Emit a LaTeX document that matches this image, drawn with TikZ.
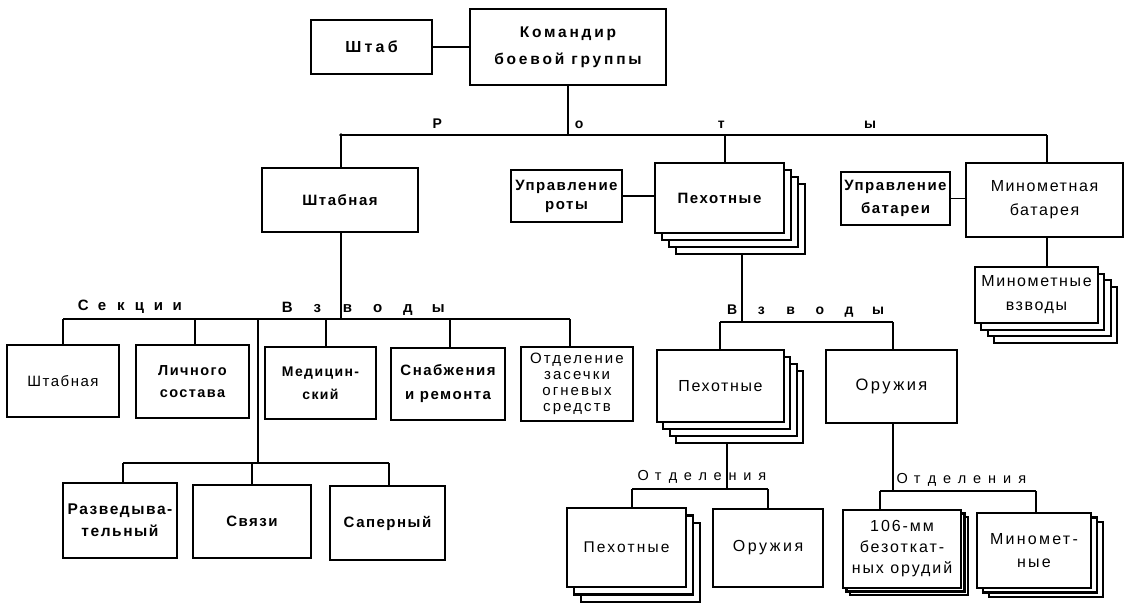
\documentclass[tikz,border=0pt]{standalone}
\usepackage{fontspec}
\setmainfont{Liberation Sans}[LetterSpace=10]
\usetikzlibrary{calc}
\pgfdeclarelayer{bg}
\pgfsetlayers{bg,main}
\newcommand\fb[2]{\fontsize{#1}{#2}\selectfont\bfseries}
\newcommand\fr[2]{\fontsize{#1}{#2}\selectfont\mdseries}
\newcommand\ls[1]{\addfontfeature{LetterSpace=#1}}
\newcommand\mybox[7][]{\node[box,minimum width={#5-#3},minimum height={#6-#4},#1] (#2) at ({(#3+#5)/2},{(#4+#6)/2}) {#7};}
\newcommand\sheets[7]{\foreach \i in {#5,...,1}{\draw[sheet] ({#1+\i*#6},{#2+\i*#7}) rectangle ({#3+\i*#6},{#4+\i*#7});}}
\newcommand\spaced[2]{\foreach \c in {#2}{\makebox[0pt]{\c}\hspace{#1pt}}}
\tikzset{
  x=1pt, y=-1pt,
  box/.style={draw, line width=2.5pt, fill=white, align=center, inner sep=1pt},
  sheet/.style={draw, line width=2.1pt, fill=white},
  conn/.style={line width=1.3pt},
  lbl/.style={inner sep=0pt, anchor=base west},
}
\begin{document}
\begin{tikzpicture}
\begin{pgfonlayer}{bg}
\fill[white] (0,0) rectangle (1126,605);
\end{pgfonlayer}
\useasboundingbox (0,0) rectangle (1126,605);
% top
\mybox[font=\fb{16}{18}\ls{20}]{shtab}{311}{20}{432}{74}{Штаб}
\mybox[font=\fb{15.5}{27}\ls{18}]{cmd}{470}{9}{666}{85}{Командир\\боевой группы}
\mybox[font=\fb{15}{18}, line width=2.9pt]{shtabco}{262}{168}{418}{232}{Штабная}
\mybox[font=\fb{15}{19}]{upr}{511}{170}{622}{222}{Управление\\роты}
\sheets{655}{163}{784}{233}{3}{7}{7}
\mybox[font=\fb{15}{19}]{pekhco}{655}{163}{784}{233}{Пехотные}
\mybox[font=\fb{15}{23}]{uprbat}{841}{172}{950}{225}{Управление\\батареи}
\mybox[font=\fr{16}{24}]{minbat}{966}{163}{1123}{237}{Минометная\\батарея}
\sheets{975}{267}{1098}{323}{3}{6.3}{6.7}
\mybox[font=\fr{16}{24}]{minvz}{975}{267}{1098}{323}{Минометные\\взводы}
% sections / platoons of HQ company
\mybox[font=\fr{15}{20}]{s1}{7}{345}{119}{417}{Штабная}
\mybox[font=\fb{14.5}{22}]{s2}{136}{345}{249}{418}{Личного\\состава}
\mybox[font=\fb{14}{23}]{p1}{265}{347}{376}{419}{Медицин-\\ский}
\mybox[font=\fb{15}{24}]{p2}{391}{348}{505}{420}{Снабжения\\и ремонта}
\mybox[font=\fr{15}{16}\ls{14}]{p3}{521}{347}{633}{421}{Отделение\\засечки\\огневых\\средств}
\mybox[font=\fb{15.5}{22}]{r1}{63}{483}{177}{558}{Разведыва-\\тельный}
\mybox[font=\fb{15}{18}]{r2}{193}{485}{311}{558}{Связи}
\mybox[font=\fb{15}{18}]{r3}{330}{486}{445}{560}{Саперный}
% rifle company platoons
\sheets{657}{350}{784}{422}{3}{6.3}{7}
\mybox[font=\fr{16}{18}]{pl1}{657}{350}{784}{422}{Пехотные}
\mybox[font=\fr{16.5}{18}\ls{15}]{pl2}{826}{350}{957}{423}{Оружия}
% squads
\sheets{567}{508}{686}{587}{2}{7}{7.5}
\mybox[font=\fr{15.5}{18}\ls{14}]{sq1}{567}{508}{686}{587}{Пехотные}
\mybox[font=\fr{16}{18}\ls{16}]{sq2}{713}{509}{823}{587}{Оружия}
\sheets{843}{510}{961}{588}{2}{3.5}{3.5}
\mybox[font=\fr{16}{21}\ls{12}]{sq3}{843}{510}{961}{588}{106-мм\\безоткат-\\ных орудий}
\sheets{977}{513}{1091}{588}{2}{6}{4.5}
\mybox[font=\fr{16}{23}\ls{14}]{sq4}{977}{513}{1091}{588}{Миномет-\\ные}
% labels
\node[lbl, font=\fb{14}{16}\ls{0}] (roty) at (437,128)
  {\makebox[0pt]{Р}\hspace{142pt}\makebox[0pt]{о}\hspace{142pt}\makebox[0pt]{т}\hspace{149pt}\makebox[0pt]{ы}};
\node[lbl, font=\fb{15}{16}\ls{0}] (sekc) at (83,310) {\spaced{18.8}{С,е,к,ц,и,и}};
\node[lbl, font=\fb{15}{16}\ls{0}] (vzv1) at (287,312) {\spaced{30.2}{В,з,в,о,д,ы}};
\node[lbl, font=\fb{14}{16}\ls{0}] (vzv2) at (732,314) {\spaced{29.2}{В,з,в,о,д,ы}};
\node[lbl, font=\fr{14.5}{16}\ls{0}] (otd1) at (643,480) {\spaced{14.9}{О,т,д,е,л,е,н,и,я}};
\node[lbl, font=\fr{14.5}{16}\ls{0}] (otd2) at (902,483) {\spaced{15}{О,т,д,е,л,е,н,и,я}};
% connectors
\begin{pgfonlayer}{bg}
\coordinate (rL) at (341,135);
\coordinate (rP) at (725,135);
\coordinate (rR) at (1047,135);
\fill (rL) circle (1.8pt);
\draw[conn] (shtab.east) -- (shtab.east -| cmd.west);
\draw[conn] (cmd.south) -- (cmd.south |- rL);
\draw[conn] (rL) -- (rR);
\draw[conn] (rL) -- (rL |- shtabco.north);
\draw[conn] (rP) -- (rP |- pekhco.north);
\draw[conn] (rR) -- (rR |- minbat.north);
\draw[conn] (upr.east) -- (upr.east -| pekhco.west);
\draw[conn] (uprbat.east) -- (uprbat.east -| minbat.west);
\draw[conn] (rR |- minbat.south) -- (rR |- minvz.north);
% HQ company
\coordinate (sA) at (341,319);
\coordinate (sL) at (63,319);
\coordinate (sR) at (570,319);
\draw[conn] (rL |- shtabco.south) -- (sA);
\draw[conn] (sL) -- (sR);
\foreach \x/\n in {63/s1,195/s2,326/p1,450/p2,570/p3}
  \draw[conn] (\x,319) -- (\x,0 |- \n.north);
\coordinate (lA) at (258,319);
\coordinate (lB) at (258,463);
\draw[conn] (lA) -- (lB);
\draw[conn] (123,463) -- (389,463);
\foreach \x/\n in {123/r1,252/r2,389/r3}
  \draw[conn] (\x,463) -- (\x,0 |- \n.north);
% rifle company
\coordinate (vP) at (742,322);
\draw[conn] (vP |- pekhco.south) -- (vP);
\draw[conn] (720,322) -- (893,322);
\foreach \x/\n in {720/pl1,893/pl2}
  \draw[conn] (\x,322) -- (\x,0 |- \n.north);
\coordinate (qA) at (727,489);
\draw[conn] (qA |- pl1.south) -- (qA);
\draw[conn] (632,489) -- (768,489);
\foreach \x/\n in {632/sq1,768/sq2}
  \draw[conn] (\x,489) -- (\x,0 |- \n.north);
\coordinate (qB) at (893,491);
\draw[conn] (qB |- pl2.south) -- (qB);
\draw[conn] (880,491) -- (1036,491);
\foreach \x/\n in {880/sq3,1036/sq4}
  \draw[conn] (\x,491) -- (\x,0 |- \n.north);
\end{pgfonlayer}
\end{tikzpicture}
\end{document}
